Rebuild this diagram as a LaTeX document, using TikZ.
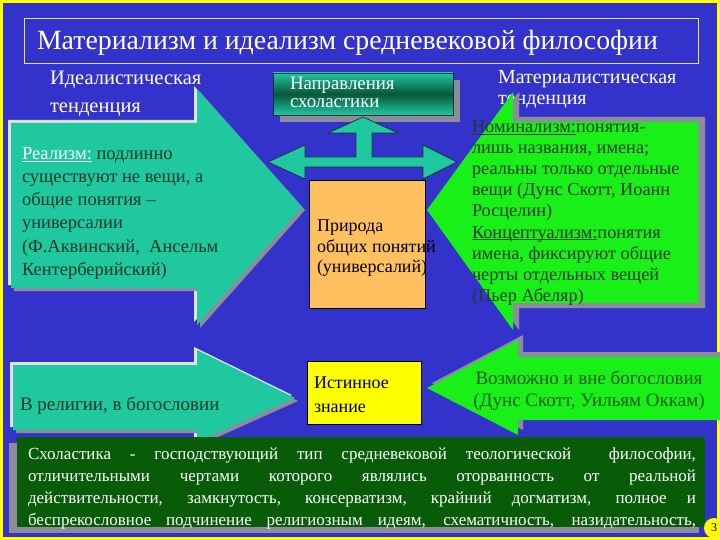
\documentclass[tikz,border=0pt]{standalone}
\usepackage{fontspec}
\setmainfont{LiberationSerif}[Extension=.ttf, UprightFont=*-Regular, BoldFont=*-Bold, ItalicFont=*-Italic, BoldItalicFont=*-BoldItalic]
\newcommand\myfs[1]{\fontsize{#1}{#1}\selectfont}
\newcommand\myul[1]{\setbox0=\hbox{#1}\rlap{\rule[-2pt]{\wd0}{0.9pt}}\box0}
\definecolor{bgblue}{RGB}{51,51,204}
\definecolor{teal1}{RGB}{32,200,160}
\definecolor{tealdark}{RGB}{8,86,60}
\definecolor{lgreen}{RGB}{24,240,24}
\definecolor{dgreen}{RGB}{8,92,8}
\definecolor{orangebox}{RGB}{255,192,96}
\definecolor{shadowgray}{RGB}{140,140,155}
\definecolor{hilite}{RGB}{225,225,245}
\definecolor{frameyellow}{RGB}{255,255,0}
\definecolor{tealtext}{RGB}{24,56,40}
\definecolor{greentext}{RGB}{36,60,36}
\definecolor{gtext}{RGB}{24,90,24}
\definecolor{outl}{RGB}{20,50,50}
\begin{document}
\begin{tikzpicture}[x=1pt,y=-1pt,
  every node/.style={inner sep=0pt, outer sep=0pt},
  lbl/.style={anchor=base west, text=white, font=\myfs{20.5}},
  lefttxt/.style={anchor=base west, text=tealtext, font=\myfs{18.5}},
  righttxt/.style={anchor=base west, text=greentext, font=\myfs{18.3}},
  boxtxt/.style={anchor=base west, text=black, font=\myfs{18}},
  bottxt/.style={anchor=base west, text=white, font=\myfs{17}},
  shadowfill/.style={fill=shadowgray},
  hilitefill/.style={fill=hilite}
]
\useasboundingbox (0,0) rectangle (720,540);
% background and frame
\fill[bgblue] (0,0) rectangle (720,540);
\draw[frameyellow, line width=3pt] (1.5,1.5) rectangle (718.5,538.5);

% title
\node[draw=hilite, line width=0.8pt, minimum width=674pt, minimum height=45pt] (titlebox) at (361,40.5) {};
\node[anchor=base west, text=white, font=\myfs{27.8}] (title) at (37,50) {Материализм и идеализм средневековой философии};

% tendency labels
\node[lbl] (idl1) at (50,85) {Идеалистическая};
\node[lbl] (idl2) at (50,113) {тенденция};
\node[lbl, font=\myfs{20}] (mat1) at (498,84) {Материалистическая};
\node[lbl, font=\myfs{20}] (mat2) at (498,105) {тенденция};

% left big arrow (idealism)
\fill[hilitefill] (8,120) -- (194,120) -- (194,86) -- (299,204) -- (194,322) -- (194,285) -- (8,285) -- cycle;
\fill[shadowfill] (14,126) -- (200,126) -- (200,92) -- (305,210) -- (200,328) -- (200,291) -- (14,291) -- cycle;
\fill[teal1] (11,123) -- (197,123) -- (197,89) -- (302,207) -- (197,325) -- (197,288) -- (11,288) -- cycle;

% right big arrow (materialism)
\fill[shadowfill] (433,210) -- (519,92) -- (519,117) -- (705,117) -- (705,308) -- (519,308) -- (519,330) -- cycle;
\fill[lgreen] (427,210) -- (513,92) -- (513,122) -- (698,122) -- (698,303) -- (513,303) -- (513,330) -- cycle;

% napravleniya box
\fill[shadowfill] (280,80) rectangle (460,122);
\node[draw=outl, line width=0.6pt, top color=teal1, bottom color=teal1, middle color=tealdark,
      minimum width=180pt, minimum height=42pt] (napr) at (363,94) {};
\node[anchor=base west, text=white, font=\myfs{18.8}] (napr1) at (290,90) {Направления};
\node[anchor=base west, text=white, font=\myfs{18.8}] (napr2) at (290,108) {схоластики};

% triple arrow
\fill[teal1, draw=outl, line width=0.7pt, line join=miter]
  (268,162) -- (305,145) -- (305,157) -- (356,157) -- (356,133) -- (328,133) -- (363,117)
  -- (398,133) -- (372,133) -- (372,157) -- (423,157) -- (423,145) -- (457,162)
  -- (423,179) -- (423,167) -- (305,167) -- (305,179) -- cycle;

% orange box
\node[draw=black, line width=0.8pt, fill=orangebox, minimum width=116pt, minimum height=128pt] (nature) at (367,244) {};
\node[boxtxt] (nat1) at (317,232) {Природа};
\node[boxtxt] (nat2) at (317,252) {общих понятий};
\node[boxtxt] (nat3) at (317,272) {(универсалий)};

% left text
\node[lefttxt] (re1) at (22,160) {{\color{white}\myul{Реализм:}} подлинно};
\node[lefttxt] (re2) at (22,183) {существуют не вещи, а};
\node[lefttxt] (re3) at (22,206) {общие понятия –};
\node[lefttxt] (re4) at (22,229) {универсалии};
\node[lefttxt] (re5) at (22,252) {(Ф.Аквинский,\ \ Ансельм};
\node[lefttxt] (re6) at (22,275) {Кентерберийский)};

% right text
\node[righttxt] (no1) at (472,133) {\myul{Номинализм:} понятия-};
\node[righttxt] (no2) at (472,154) {лишь названия, имена;};
\node[righttxt] (no3) at (472,175) {реальны только отдельные};
\node[righttxt] (no4) at (472,196) {вещи (Дунс Скотт, Иоанн};
\node[righttxt] (no5) at (472,217) {Росцелин)};
\node[righttxt] (no6) at (472,238) {\myul{Концептуализм:} понятия};
\node[righttxt] (no7) at (472,259) {имена, фиксируют общие};
\node[righttxt] (no8) at (472,280) {черты отдельных вещей};
\node[righttxt] (no9) at (472,301) {(Пьер Абеляр)};

% bottom left arrow
\fill[hilitefill] (10,362) -- (194,362) -- (194,347) -- (292,395) -- (194,439) -- (194,427) -- (10,427) -- cycle;
\fill[shadowfill] (16,368) -- (200,368) -- (200,353) -- (298,401) -- (200,445) -- (200,433) -- (16,433) -- cycle;
\fill[teal1] (13,365) -- (197,365) -- (197,350) -- (295,398) -- (197,442) -- (197,430) -- (13,430) -- cycle;
\node[anchor=base west, text=tealtext, font=\myfs{19}] (rel) at (20,410) {В религии, в богословии};

% bottom right arrow
\fill[shadowfill] (432,383) -- (523,335) -- (523,352) -- (720,352) -- (720,415) -- (523,415) -- (523,430) -- cycle;
\fill[lgreen] (427,388) -- (518,340) -- (518,357) -- (720,357) -- (720,420) -- (518,420) -- (518,435) -- cycle;
\node[anchor=base, text=gtext, font=\myfs{19}] (vo1) at (589,384) {Возможно и вне богословия};
\node[anchor=base, text=gtext, font=\myfs{19}] (vo2) at (589,406) {(Дунс Скотт, Уильям Оккам)};

% yellow box
\node[draw=black, line width=0.8pt, fill=frameyellow, minimum width=114pt, minimum height=63pt] (truth) at (364,392.5) {};
\node[boxtxt] (tr1) at (314,388) {Истинное};
\node[boxtxt] (tr2) at (314,412) {знание};

% bottom box
\fill[shadowfill] (9,443) rectangle (699,533);
\node[fill=dgreen, minimum width=688pt, minimum height=90pt] (schol) at (361,482) {};
\node[bottxt] (sc1) at (28,459) {\makebox[668pt][s]{Схоластика - господствующий тип средневековой теологической\ \ философии,}};
\node[bottxt] (sc2) at (28,481) {\makebox[668pt][s]{отличительными чертами которого являлись оторванность от реальной}};
\node[bottxt] (sc3) at (28,503) {\makebox[668pt][s]{действительности, замкнутость, консерватизм, крайний догматизм, полное и}};
\node[bottxt] (sc4) at (28,525) {\makebox[668pt][s]{беспрекословное подчинение религиозным идеям, схематичность, назидательность,}};

% page badge
\node[circle, fill=frameyellow, minimum size=20pt, text=black, font=\myfs{12}] (page) at (714,528) {3};
\end{tikzpicture}
\end{document}
